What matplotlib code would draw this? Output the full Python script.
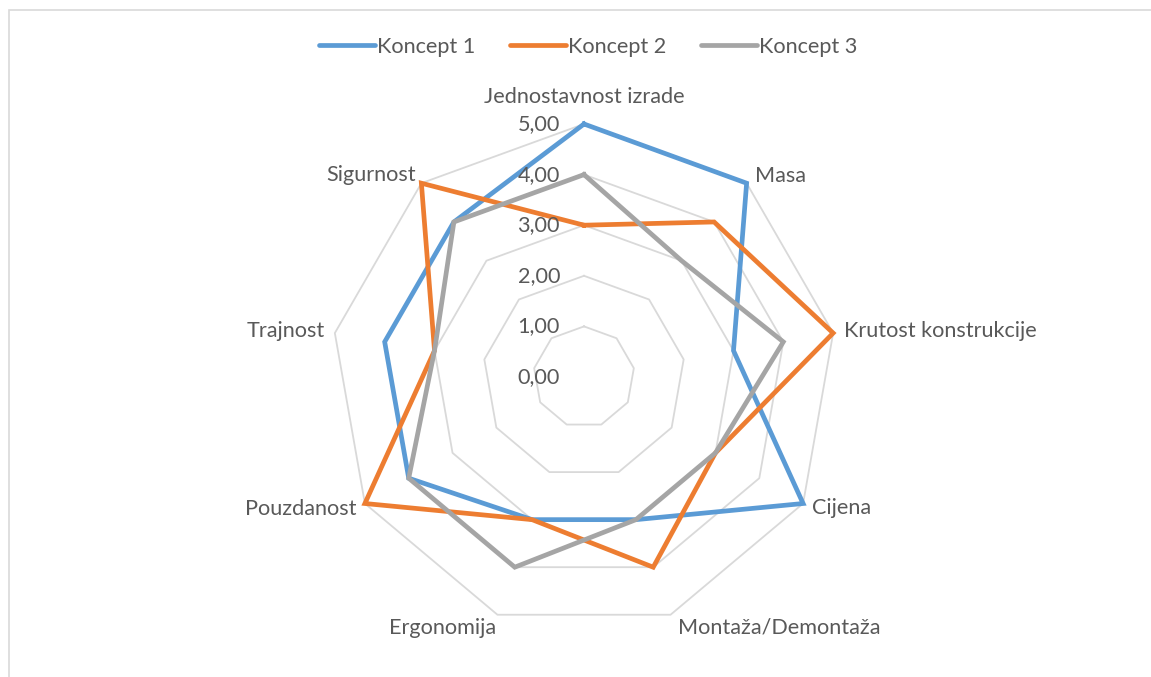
import numpy as np
import matplotlib.pyplot as plt
from matplotlib.lines import Line2D
from matplotlib.patches import Rectangle

# ---------------------------------------------------------
# Data: concept scores per criterion (0-5 scale)
# ---------------------------------------------------------
categories = ["Jednostavnost izrade", "Masa", "Krutost konstrukcije", "Cijena",
              "Montaža/Demontaža", "Ergonomija", "Pouzdanost", "Trajnost", "Sigurnost"]
koncept_1 = [5, 5, 3, 5, 3, 3, 4, 4, 4]
koncept_2 = [3, 4, 5, 3, 4, 3, 5, 3, 5]
koncept_3 = [4, 3, 4, 3, 3, 4, 4, 3, 4]
series_names = ["Koncept 1", "Koncept 2", "Koncept 3"]
series_colors = ["#5B9BD5", "#ED7D31", "#A5A5A5"]
ring_levels = [0, 1, 2, 3, 4, 5]
ring_labels = ["0,00", "1,00", "2,00", "3,00", "4,00", "5,00"]

plt.rcParams['font.family'] = ['Lato', 'DejaVu Sans']
TEXT_COLOR = "#595959"
FS = 15.6

W, H = 1151, 677
fig = plt.figure(figsize=(W / 100, H / 100), dpi=100)

# light chart-area border (top and left edges visible)
fig.patches.append(Rectangle((9 / W, -0.1), 1.2, 1 - 10 / H + 0.1,
                             transform=fig.transFigure, fill=False,
                             edgecolor="#D9D9D9", linewidth=1.2))

# polar axes centred at (584, 377) px with radius 253 px
cx, cy, R = 584, 377, 253
ax = fig.add_axes([(cx - R) / W, (H - cy - R) / H, 2 * R / W, 2 * R / H],
                  projection='polar')
ax.set_theta_offset(np.pi / 2)
ax.set_theta_direction(-1)
ax.set_ylim(0, 5)
ax.set_axis_off()

n = len(categories)
angles = np.linspace(0, 2 * np.pi, n, endpoint=False)
closed = np.append(angles, angles[0])

# nonagon grid rings
for lvl in ring_levels[1:]:
    ax.plot(closed, [lvl] * (n + 1), color="#D9D9D9", linewidth=1.3,
            clip_on=False, zorder=1)

# series
for name, vals, col in zip(series_names, [koncept_1, koncept_2, koncept_3], series_colors):
    ax.plot(closed, vals + vals[:1], color=col, linewidth=3.4, clip_on=False,
            zorder=3, solid_joinstyle='miter')

# value labels along the vertical axis
for lvl, lab in zip(ring_levels, ring_labels):
    ax.annotate(lab, xy=(0, lvl), xytext=(-24, 0), textcoords='offset pixels',
                ha='right', va='center', fontsize=FS, color=TEXT_COLOR, zorder=4)

# category labels outside the outer ring
label_pos = [
    ((0, 27), 'center'),
    ((8, 7), 'left'),
    ((11, 2), 'left'),
    ((9, -5), 'left'),
    ((7, -13), 'left'),
    ((-1, -13), 'right'),
    ((-8, -5), 'right'),
    ((-10, 2), 'right'),
    ((-5, 8), 'right'),
]
for ang, cat, (off, ha) in zip(angles, categories, label_pos):
    ax.annotate(cat, xy=(ang, 5), xytext=off, textcoords='offset pixels',
                ha=ha, va='center', fontsize=FS, color=TEXT_COLOR,
                annotation_clip=False)

# legend at top
handles = [Line2D([0], [0], color=c, linewidth=3.4, solid_capstyle='round')
           for c in series_colors]
fig.legend(handles, series_names, loc='center', bbox_to_anchor=(588 / W, 1 - 47 / H),
           ncol=3, frameon=False, fontsize=FS, labelcolor=TEXT_COLOR,
           handlelength=2.6, handletextpad=0.08, columnspacing=1.6)

fig.savefig("out.png", dpi=100)
